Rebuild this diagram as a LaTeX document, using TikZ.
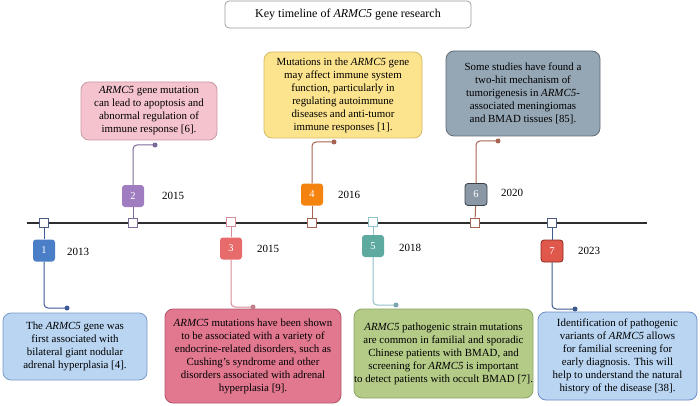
\documentclass[tikz,border=0pt]{standalone}
\usepackage{fontspec}
\setmainfont{Liberation Serif}
\definecolor{bA}{HTML}{4A7EC7}\definecolor{cA}{HTML}{3D5A99}\definecolor{mA}{HTML}{4A5A80}
\definecolor{bB}{HTML}{A07CC0}\definecolor{cB}{HTML}{7D6A9A}
\definecolor{bC}{HTML}{E86B6B}\definecolor{cC}{HTML}{D88C98}
\definecolor{bD}{HTML}{F5830F}\definecolor{cD}{HTML}{A86452}
\definecolor{bE}{HTML}{5EA9A0}\definecolor{cE}{HTML}{8EC3CA}
\definecolor{bF}{HTML}{8A97A4}\definecolor{dF}{HTML}{3A4048}
\definecolor{bG}{HTML}{E0574B}\definecolor{dG}{HTML}{8A2A20}\definecolor{cG}{HTML}{3D5A8A}
\definecolor{tAf}{HTML}{B9D5F2}\definecolor{tAd}{HTML}{7B9CC6}
\definecolor{tBf}{HTML}{F5C3CE}\definecolor{tBd}{HTML}{C89AA6}
\definecolor{tCf}{HTML}{E27890}\definecolor{tCd}{HTML}{B05468}
\definecolor{tDf}{HTML}{FCE38D}\definecolor{tDd}{HTML}{D6BA66}
\definecolor{tEf}{HTML}{B4CB88}\definecolor{tEd}{HTML}{8CA466}
\definecolor{tFf}{HTML}{95A6B5}\definecolor{tFd}{HTML}{5F6B77}
\definecolor{tGf}{HTML}{B9D5F2}\definecolor{tGd}{HTML}{6C8EC4}
\definecolor{lineC}{HTML}{2E2E2E}
\tikzset{
  numbox/.style={rounded corners=3pt, minimum width=22pt, minimum height=22pt, inner sep=0pt, text=white, font=\fontsize{10.5}{12}\selectfont},
  marker/.style={draw, fill=white, minimum size=9pt, inner sep=0pt, line width=0.8pt},
  yearlbl/.style={font=\fontsize{11}{13}\selectfont, inner sep=0pt},
  infobox/.style={draw, rounded corners=8pt, line width=0.8pt, align=center, inner sep=0pt, font=\fontsize{10.9}{13}\selectfont},
  conn/.style={line width=1pt, rounded corners=4pt},
  dotend/.style={circle, fill, inner sep=0pt, minimum size=5pt}
}
\begin{document}
\begin{tikzpicture}[x=1pt,y=-1pt]
\useasboundingbox (0,0) rectangle (700,406);
\fill[white] (0,0) rectangle (700,406);
% title
\node[draw=gray!80, rounded corners=4pt, line width=0.7pt, minimum width=246pt, minimum height=27pt, inner sep=0pt, font=\fontsize{12}{14}\selectfont] (title) at (348,14.5) {Key timeline of \textit{ARMC5} gene research};
% timeline
\coordinate (tl) at (27,223);
\coordinate (tr) at (647,223);
\draw[line width=1.5pt, lineC] (tl) -- (tr);
% markers
\node[marker, draw=mA] (m1) at (44,223) {};
\node[marker, draw=cB] (m2) at (133,223) {};
\node[marker, draw=cC] (m3) at (231,221.5) {};
\node[marker, draw=cD] (m4) at (312,222.5) {};
\node[marker, draw=cE] (m5) at (373,221.5) {};
\node[marker, draw=cD] (m6) at (475,222.5) {};
\node[marker, draw=mA] (m7) at (552,223) {};
% number boxes
\node[numbox, fill=bA] (n1) at (44,250.5) {1};
\node[numbox, fill=bB] (n2) at (133,196) {2};
\node[numbox, fill=bC] (n3) at (231,248.5) {3};
\node[numbox, fill=bD] (n4) at (312,194.5) {4};
\node[numbox, fill=bE] (n5) at (373,246) {5};
\node[numbox, fill=bF, draw=dF, line width=0.8pt] (n6) at (476,194.5) {6};
\node[numbox, fill=bG, draw=dG, line width=0.8pt] (n7) at (552,251) {7};
% marker-to-box stubs
\draw[line width=1pt, cA] (m1) -- (n1);
\draw[line width=1pt, cB] (m2) -- (n2);
\draw[line width=1pt, cC] (m3) -- (n3);
\draw[line width=1pt, cD] (m4) -- (n4);
\draw[line width=1pt, cE] (m5) -- (n5);
\draw[line width=1pt, cD] (m6) -- (n6);
\draw[line width=1pt, cG] (m7) -- (n7);
% redraw markers on top
\node[marker, draw=mA] at (m1) {};
\node[marker, draw=cB] at (m2) {};
\node[marker, draw=cC] at (m3) {};
\node[marker, draw=cD] at (m4) {};
\node[marker, draw=cE] at (m5) {};
\node[marker, draw=cD] at (m6) {};
\node[marker, draw=mA] at (m7) {};
% years
\node[yearlbl] (y1) at (78,252) {2013};
\node[yearlbl] (y2) at (173,196) {2015};
\node[yearlbl] (y3) at (268,249) {2015};
\node[yearlbl] (y4) at (349,195) {2016};
\node[yearlbl] (y5) at (410,248) {2018};
\node[yearlbl] (y6) at (512,193) {2020};
\node[yearlbl] (y7) at (589,251) {2023};
% info boxes
\node[infobox, fill=tBf, draw=tBd, minimum width=136pt, minimum height=58pt] (t2) at (149,111) {\textit{ARMC5} gene mutation\\can lead to apoptosis and\\abnormal regulation of\\immune response [6].};
\node[infobox, fill=tDf, draw=tDd, minimum width=158pt, minimum height=86pt] (t4) at (343,95) {Mutations in the \textit{ARMC5} gene\\may affect immune system\\function, particularly in\\regulating autoimmune\\diseases and anti-tumor\\immune responses [1].};
\node[infobox, fill=tFf, draw=tFd, minimum width=154pt, minimum height=85pt] (t6) at (523,93.5) {Some studies have found a\\two-hit mechanism of\\tumorigenesis in \textit{ARMC5}-\\associated meningiomas\\and BMAD tissues [85].};
\node[infobox, fill=tAf, draw=tAd, minimum width=144pt, minimum height=67pt] (t1) at (75,346.5) {The \textit{ARMC5} gene was\\first associated with\\bilateral giant nodular\\adrenal hyperplasia [4].};
\node[infobox, fill=tCf, draw=tCd, minimum width=176pt, minimum height=94pt] (t3) at (253,356) {\textit{ARMC5} mutations have been shown\\to be associated with a variety of\\endocrine-related disorders, such as\\Cushing's syndrome and other\\disorders associated with adrenal\\hyperplasia [9].};
\node[infobox, fill=tEf, draw=tEd, minimum width=179pt, minimum height=89pt] (t5) at (443.5,353.5) {\textit{ARMC5} pathogenic strain mutations\\are common in familial and sporadic\\Chinese patients with BMAD, and\\screening for \textit{ARMC5} is important\\to detect patients with occult BMAD [7].};
\node[infobox, fill=tGf, draw=tGd, minimum width=159pt, minimum height=88pt] (t7) at (617.5,356) {Identification of pathogenic\\variants of \textit{ARMC5} allows\\for familial screening for\\early diagnosis. This will\\help to understand the natural\\history of the disease [38].};
% connector ends
\coordinate (d1) at (67,308);
\coordinate (d2) at (155,145);
\coordinate (d3) at (253,307);
\coordinate (d4) at (334,142);
\coordinate (d5) at (396,305);
\coordinate (d6) at (498,141);
\coordinate (d7) at (575,309);
% connectors
\draw[conn, cA] (n1.south) |- (d1);
\node[dotend, fill=cA] at (d1) {};
\draw[conn, cB] (n2.north) |- (d2);
\node[dotend, fill=cB] at (d2) {};
\draw[conn, cC] (n3.south) |- (d3);
\node[dotend, fill=cC!90!black] at (d3) {};
\draw[conn, cD] (n4.north) |- (d4);
\node[dotend, fill=cD] at (d4) {};
\draw[conn, cE] (n5.south) |- (d5);
\node[dotend, fill=cE!85!black] at (d5) {};
\draw[conn, cD] (n6.north) |- (d6);
\node[dotend, fill=cD] at (d6) {};
\draw[conn, cG] (n7.south) |- (d7);
\node[dotend, fill=cG] at (d7) {};
\end{tikzpicture}
\end{document}
